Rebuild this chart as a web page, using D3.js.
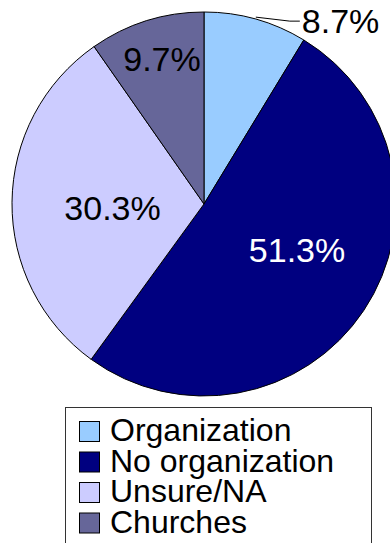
<!DOCTYPE html>
<html>
<head>
<meta charset="utf-8">
<script src="https://cdn.jsdelivr.net/npm/d3@7"></script>
<style>
  html, body { margin: 0; padding: 0; background: #fff; }
  svg { display: block; font-family: "Liberation Sans", Arial, sans-serif; }
</style>
</head>
<body>
<svg id="chart" width="390" height="543"></svg>
<script>
// Share of respondents by type of organization
const categories = ["Organization", "No organization", "Unsure/NA", "Churches"];
const shares = [8.7, 51.3, 30.3, 9.7];
const colors = ["#99CCFF", "#000080", "#CCCCFF", "#666699"];
const labelColors = ["#000", "#fff", "#000", "#000"];

const W = 390, H = 543;
const cx = 204, cy = 204, R = 192;

// Label placement per slice: radius as a fraction of R, angular nudge in degrees
const labelPlacement = [
  { outside: true },
  { r: 0.54, nudge: -7.5 },
  { r: 0.477, nudge: -3 },
  { r: 0.786, nudge: 1.3 }
];

const svg = d3.select("#chart");
const data = categories.map((c, i) => ({
  name: c, value: shares[i], color: colors[i], text: labelColors[i], place: labelPlacement[i]
}));

const pie = d3.pie().value(d => d.value).sort(null);
const arcs = pie(data);
const arc = d3.arc().innerRadius(0).outerRadius(R);

const g = svg.append("g").attr("transform", `translate(${cx},${cy})`);

g.selectAll("path.slice")
  .data(arcs)
  .join("path")
  .attr("class", "slice")
  .attr("d", arc)
  .attr("fill", d => d.data.color)
  .attr("stroke", "#000")
  .attr("stroke-width", 1);

const fmt = v => v.toFixed(1) + "%";
const mid = d => (d.startAngle + d.endAngle) / 2;
const rad = deg => deg * Math.PI / 180;

const inside = arcs.filter(d => !d.data.place.outside);
const outside = arcs.filter(d => d.data.place.outside);

const inPos = d => {
  const a = mid(d) + rad(d.data.place.nudge);
  const r = R * d.data.place.r;
  return [r * Math.sin(a), -r * Math.cos(a)];
};

g.selectAll("text.inlabel")
  .data(inside)
  .join("text")
  .attr("class", "inlabel")
  .attr("x", d => inPos(d)[0])
  .attr("y", d => inPos(d)[1])
  .attr("dy", "0.36em")
  .attr("text-anchor", "middle")
  .attr("font-size", 34)
  .attr("fill", d => d.data.text)
  .text(d => fmt(d.data.value));

// Outside labels with a leader line from the rim
outside.forEach(d => {
  const a = mid(d);
  const px = R * Math.sin(a), py = -R * Math.cos(a);
  const tx = px + 46, ty = py + 2;
  g.append("polyline")
    .attr("points", [[px, py - 2], [tx - 12, ty], [tx - 2, ty]].map(p => p.join(",")).join(" "))
    .attr("fill", "none")
    .attr("stroke", "#000")
    .attr("stroke-width", 1);
  g.append("text")
    .attr("x", tx)
    .attr("y", ty)
    .attr("dy", "0.36em")
    .attr("text-anchor", "start")
    .attr("font-size", 34)
    .attr("fill", d.data.text)
    .text(fmt(d.data.value));
});

// Legend
const legend = svg.append("g").attr("transform", "translate(65.5,407.5)");
legend.append("rect")
  .attr("width", 306)
  .attr("height", 160)
  .attr("fill", "#fff")
  .attr("stroke", "#333")
  .attr("stroke-width", 1);

const rowY = d3.scaleBand().domain(categories).range([14, 14 + 30.5 * categories.length]);

const items = legend.selectAll("g.item")
  .data(data)
  .join("g")
  .attr("class", "item")
  .attr("transform", d => `translate(0,${rowY(d.name)})`);

items.append("rect")
  .attr("x", 14)
  .attr("y", 0)
  .attr("width", 20)
  .attr("height", 20)
  .attr("fill", d => d.color)
  .attr("stroke", "#000")
  .attr("stroke-width", 1);

items.append("text")
  .attr("x", 44.5)
  .attr("y", 19.5)
  .attr("font-size", 32)
  .attr("fill", "#000")
  .text(d => d.name);
</script>
</body>
</html>
